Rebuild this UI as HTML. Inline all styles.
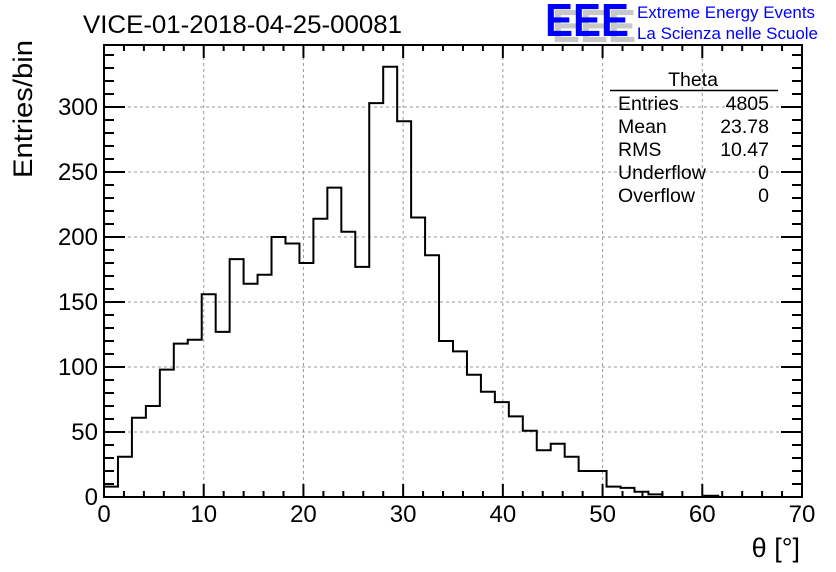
<!DOCTYPE html>
<html><head><meta charset="utf-8"><style>
body{margin:0;background:#fff;}
svg{display:block;font-family:"Liberation Sans",sans-serif;}
</style></head><body>
<svg id="c" width="836" height="572" xmlns="http://www.w3.org/2000/svg">
<rect width="836" height="572" fill="#fff"/>
<g id="grid"></g>
<g id="hist"></g>
<g id="axes"></g>
<text x="83" y="33" font-size="25" textLength="319" lengthAdjust="spacingAndGlyphs">VICE-01-2018-04-25-00081</text>
<g>
<text x="552" y="42" font-size="46" font-weight="bold" fill="#c8c8c8" textLength="84" lengthAdjust="spacingAndGlyphs">EEE</text>
<text x="545" y="36" font-size="46" font-weight="bold" fill="#0000ff" textLength="84" lengthAdjust="spacingAndGlyphs">EEE</text>
<text x="637" y="18" font-size="17" fill="#0000ff" textLength="178" lengthAdjust="spacingAndGlyphs">Extreme Energy Events</text>
<text x="637" y="39" font-size="17" fill="#0000ff" textLength="181" lengthAdjust="spacingAndGlyphs">La Scienza nelle Scuole</text>
</g>
<g font-size="19.5">
<text x="693" y="86" text-anchor="middle">Theta</text>
<line x1="610" y1="90.5" x2="778" y2="90.5" stroke="#000" stroke-width="1.5"/>
<text x="618" y="110">Entries</text><text x="769" y="110" text-anchor="end">4805</text>
<text x="618" y="133">Mean</text><text x="769" y="133" text-anchor="end">23.78</text>
<text x="618" y="156">RMS</text><text x="769" y="156" text-anchor="end">10.47</text>
<text x="618" y="179">Underflow</text><text x="769" y="179" text-anchor="end">0</text>
<text x="618" y="202">Overflow</text><text x="769" y="202" text-anchor="end">0</text>
</g>
<text transform="translate(32,178) rotate(-90)" font-size="27" textLength="138" lengthAdjust="spacingAndGlyphs">Entries/bin</text>
<text x="800" y="557" font-size="27" text-anchor="end">θ [°]</text>
</svg>
<script>
const binWidth = 1.4;
const counts = [8,31,61,70,98,118,121,156,127,183,164,171,200,195,180,214,238,204,177,303,331,289,215,186,120,112,94,81,73,62,51,36,41,31,20,20,8,7,4,2,0,0,0,1,0,0,0,0,0,0];
const xTicks = [0,10,20,30,40,50,60,70];
const yTicks = [0,50,100,150,200,250,300];
const L=104,R=802,T=45,B=497;
const xMin=0,xMax=70,yMax=(B-T)/1.3;
const sx=v=>L+(v-xMin)/(xMax-xMin)*(R-L);
const sy=v=>B-v*1.3;
const NS="http://www.w3.org/2000/svg";
function mk(tag,attrs,parent){const e=document.createElementNS(NS,tag);for(const k in attrs)e.setAttribute(k,attrs[k]);parent.appendChild(e);return e;}
const grid=document.getElementById('grid'),hist=document.getElementById('hist'),axes=document.getElementById('axes');
xTicks.forEach(v=>{if(v>xMin&&v<xMax){const l=mk('line',{x1:sx(v),x2:sx(v),y1:T,y2:B,stroke:'#999','stroke-dasharray':'3,3'},grid);

}});
yTicks.forEach(v=>{if(v>0){const l=mk('line',{x1:L,x2:R,y1:sy(v),y2:sy(v),stroke:'#999','stroke-dasharray':'3,3'},grid);

}});
let d='M'+sx(0)+','+sy(0);
counts.forEach((c,i)=>{d+=' L'+sx(i*binWidth)+','+sy(c)+' L'+sx((i+1)*binWidth)+','+sy(c);});
d+=' L'+sx(counts.length*binWidth)+','+sy(0);
const p=mk('path',{d:d,fill:'none',stroke:'#000','stroke-width':2},hist);


const fr=mk('rect',{x:L,y:T,width:R-L,height:B-T,fill:'none',stroke:'#000','stroke-width':2},axes);


for(let v=0;v<=70;v+=2){const len=v%10===0?13:6;
mk('line',{x1:sx(v),x2:sx(v),y1:B,y2:B-len,stroke:'#000','stroke-width':2},axes);
mk('line',{x1:sx(v),x2:sx(v),y1:T,y2:T+len,stroke:'#000','stroke-width':2},axes);}
for(let v=0;v<=yMax;v+=10){const len=v%50===0?21:10;
mk('line',{x1:L,x2:L+len,y1:sy(v),y2:sy(v),stroke:'#000','stroke-width':2},axes);
mk('line',{x1:R,x2:R-len,y1:sy(v),y2:sy(v),stroke:'#000','stroke-width':2},axes);}
xTicks.forEach(v=>{const t=mk('text',{x:sx(v),y:522,'font-size':24,'text-anchor':'middle'},axes);t.textContent=v;

});
yTicks.forEach(v=>{const t=mk('text',{x:98,y:sy(v)+8,'font-size':24,'text-anchor':'end'},axes);t.textContent=v;

});
</script>
</body></html>
